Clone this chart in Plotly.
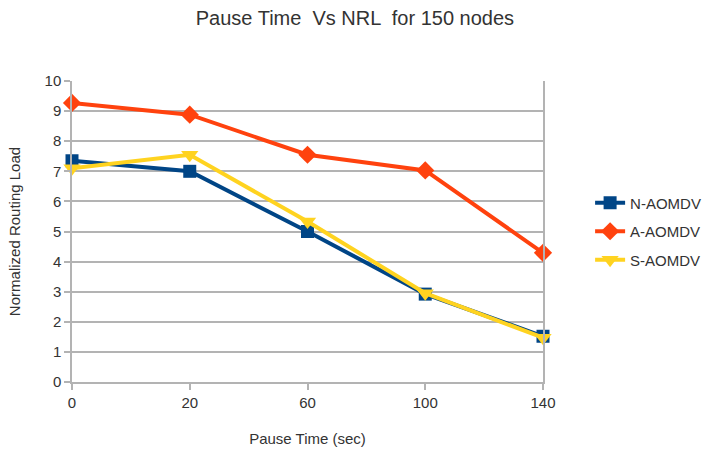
import plotly.graph_objects as go

pause_times = ["0", "20", "60", "100", "140"]
n_aomdv = [7.35, 7.0, 5.0, 2.92, 1.52]
a_aomdv = [9.27, 8.88, 7.55, 7.03, 4.29]
s_aomdv = [7.1, 7.55, 5.33, 2.95, 1.47]

series = [
    ("N-AOMDV", n_aomdv, "#004586", "square", 13),
    ("A-AOMDV", a_aomdv, "#ff420e", "diamond", 14),
    ("S-AOMDV", s_aomdv, "#ffd320", "triangle-down", 15),
]

fig = go.Figure()
for name, vals, color, sym, size in series:
    fig.add_trace(go.Scatter(
        x=pause_times, y=vals, name=name, mode="lines+markers",
        legendgroup=name,
        line=dict(color=color, width=4),
        marker=dict(symbol=sym, size=size, color=color),
        cliponaxis=False,
    ))

font_c = "#333333"
grid_c = "#b3b3b3"
fam = "Liberation Sans"
fig.update_layout(
    width=707, height=461,
    margin=dict(l=72, r=164, t=81, b=79, autoexpand=False),
    paper_bgcolor="white", plot_bgcolor="white",
    title=dict(text="Pause Time  Vs NRL  for 150 nodes", x=0.502, xanchor="center",
               y=0.96, yanchor="middle",
               font=dict(family=fam, size=20, color=font_c)),
    font=dict(family=fam, size=14, color=font_c),
    legend=dict(x=1.1, xanchor="left", y=0.5, yanchor="middle",
                font=dict(family=fam, size=15, color=font_c),
                tracegroupgap=6, itemsizing="trace", bgcolor="rgba(0,0,0,0)"),
    showlegend=True,
)
fig.update_xaxes(
    type="category", range=[0, 4],
    showgrid=False, showline=True, linecolor=grid_c, linewidth=1.5,
    mirror=False, ticks="outside", ticklen=6, tickcolor=grid_c, tickwidth=1.5,
    tickfont=dict(size=15, color=font_c),
    title=dict(text="Pause Time (sec)", standoff=24,
               font=dict(family=fam, size=15, color=font_c)),
    zeroline=False,
)
fig.update_yaxes(
    range=[0, 10], dtick=1,
    showgrid=True, gridcolor=grid_c, gridwidth=1.5,
    showline=True, linecolor=grid_c, linewidth=1.5, mirror=True,
    ticks="outside", ticklen=6, tickcolor=grid_c, tickwidth=1.5,
    tickfont=dict(size=15, color=font_c),
    title=dict(text="Normalized Routing Load", standoff=20,
               font=dict(family=fam, size=15, color=font_c)),
    zeroline=False,
)

fig.write_html("out.html")
